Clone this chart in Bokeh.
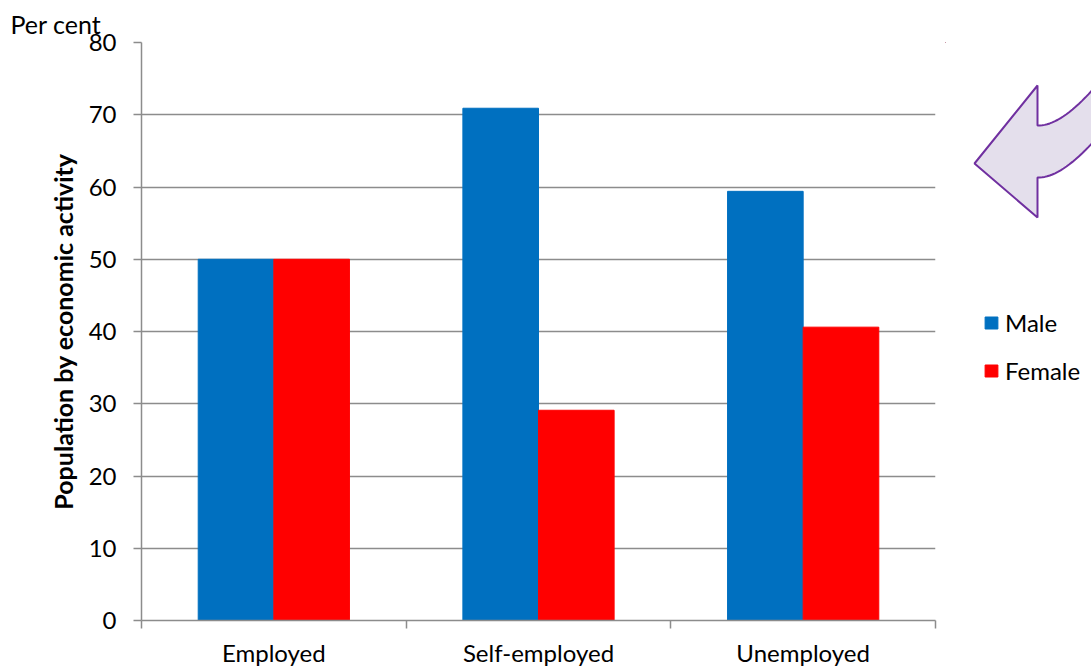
from bokeh.plotting import figure
from bokeh.layouts import row
from bokeh.models import FixedTicker, Range1d, Legend, LegendItem, ColumnDataSource
from bokeh.embed import file_html
from bokeh.resources import INLINE

categories = ["Employed", "Self-employed", "Unemployed"]
male = [50.0, 70.9, 59.4]
female = [50.0, 29.1, 40.6]
y_ticks = [0, 10, 20, 30, 40, 50, 60, 70, 80]

FONT = "Lato"
GRID = "#8c8c8c"
BLUE = "#0070c0"
RED = "#ff0000"
bar_w = 1 / 3.5

centers = [i + 0.5 for i in range(len(categories))]
src = ColumnDataSource(dict(
    xm=[c - bar_w / 2 for c in centers],
    xf=[c + bar_w / 2 for c in centers],
    male=male, female=female))

BT, BB = 42, 49

p = figure(width=945, height=669, x_range=Range1d(0, len(categories)),
           y_range=Range1d(0, 80), output_backend="svg", toolbar_location=None,
           min_border_left=141, min_border_right=10, min_border_top=BT,
           min_border_bottom=BB)
p.outline_line_color = None
p.vbar(x="xm", top="male", width=bar_w, source=src, color=BLUE)
p.vbar(x="xf", top="female", width=bar_w, source=src, color=RED)

p.xgrid.visible = False
p.ygrid.ticker = FixedTicker(ticks=y_ticks)
p.ygrid.grid_line_color = GRID
p.ygrid.grid_line_width = 1.5

xa = p.xaxis[0]
xa.ticker = FixedTicker(ticks=centers, minor_ticks=list(range(len(categories) + 1)))
xa.major_label_overrides = {c: n for c, n in zip(centers, categories)}
xa.major_tick_line_color = None
xa.major_tick_out = 0
xa.major_tick_in = 0
xa.minor_tick_in = 0
xa.minor_tick_out = 8
xa.minor_tick_line_color = GRID
xa.minor_tick_line_width = 1.5
xa.axis_line_color = GRID
xa.axis_line_width = 1.5
xa.major_label_text_font = FONT
xa.major_label_text_font_size = "24px"
xa.major_label_text_color = "black"
xa.major_label_standoff = 9

ya = p.yaxis[0]
ya.ticker = FixedTicker(ticks=y_ticks)
ya.minor_tick_line_color = None
ya.major_tick_in = 0
ya.major_tick_out = 8
ya.major_tick_line_color = GRID
ya.major_tick_line_width = 1.5
ya.axis_line_color = GRID
ya.axis_line_width = 1.5
ya.major_label_text_font = FONT
ya.major_label_text_font_size = "24px"
ya.major_label_text_color = "black"
ya.major_label_standoff = 17
ya.axis_label = "Population by economic activity"
ya.axis_label_text_font = FONT
ya.axis_label_text_font_size = "25px"
ya.axis_label_text_font_style = "bold"
ya.axis_label_text_color = "black"
ya.axis_label_standoff = 8

p.title.text = "Per cent"
p.title.text_font = FONT
p.title.text_font_size = "25px"
p.title.text_font_style = "normal"
p.title.text_color = "black"
p.title.align = "left"
p.title.offset = -131
p.title.standoff = 8

# side panel with arrow and legend (frame aligned with the main frame)
q = figure(width=146, height=669, x_range=Range1d(945, 1091),
           y_range=Range1d(669 - BB, BT), title=None,
           output_backend="svg", toolbar_location=None, min_border=0,
           min_border_top=BT, min_border_bottom=BB,
           x_axis_type=None, y_axis_type=None)
q.outline_line_color = None
q.grid.visible = False


def qbez(p0, c, p1, n=20):
    pts = []
    for i in range(n + 1):
        t = i / n
        x = (1 - t) ** 2 * p0[0] + 2 * (1 - t) * t * c[0] + t ** 2 * p1[0]
        y = (1 - t) ** 2 * p0[1] + 2 * (1 - t) * t * c[1] + t ** 2 * p1[1]
        pts.append((x, y))
    return pts

upper = qbez((1037, 125), (1060, 126), (1095, 86))
lower = qbez((1095, 139), (1060, 178), (1037, 177))
pts = [(974, 163), (1037, 85)] + upper + lower + [(1037, 217)]
q.patch([a for a, b in pts], [b for a, b in pts], fill_color="#e4dfec",
        line_color="#7030a0", line_width=2)

rm = q.vbar(x=[-10000], top=[-10000], bottom=[-10001], width=1, color=BLUE)
rf = q.vbar(x=[-10000], top=[-10000], bottom=[-10001], width=1, color=RED)
leg = Legend(items=[LegendItem(label="Male", renderers=[rm]),
                    LegendItem(label="Female", renderers=[rf])],
             location=(38, 235), orientation="vertical",
             glyph_width=16, glyph_height=15, label_text_font=FONT,
             label_text_font_size="24px", label_text_color="black",
             label_standoff=6, spacing=19,
             border_line_color=None, background_fill_alpha=0, padding=0,
             margin=0)
q.add_layout(leg)

layout = row(p, q, spacing=0)
open("out.html", "w").write(file_html(layout, INLINE))
